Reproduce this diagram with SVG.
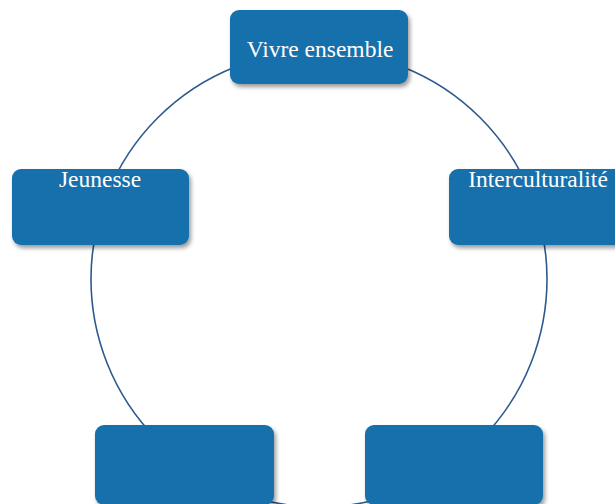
<svg xmlns="http://www.w3.org/2000/svg" width="615" height="504" viewBox="0 0 615 504">
<style>
.box{fill:#1570AC;filter:url(#sh)}
.lbl{font-family:"Liberation Serif","Times New Roman",serif;font-size:23.5px;fill:#fff;text-anchor:middle}
.conn{fill:none;stroke:#2D5A8E;stroke-width:1.6}
</style>
<defs>
<filter id="sh" x="-10%" y="-10%" width="130%" height="140%">
<feDropShadow dx="2" dy="3" stdDeviation="2" flood-color="#000" flood-opacity="0.4"/>
</filter>
</defs>
<rect width="615" height="504" fill="#fff"/>
<g id="connectors">
<circle class="conn" cx="319" cy="279" r="228"/>
</g>
<g id="vivre-ensemble">
<rect class="box" x="230" y="10" width="178" height="74" rx="9"/>
<text class="lbl" x="320" y="57">Vivre ensemble</text>
</g>
<g id="jeunesse">
<rect class="box" x="12" y="169" width="177" height="76" rx="9"/>
<text class="lbl" x="100" y="187">Jeunesse</text>
</g>
<g id="interculturalite">
<rect class="box" x="449" y="169" width="178" height="76" rx="9"/>
<text class="lbl" x="538" y="187">Interculturalité</text>
</g>
<g id="node-bottom-left">
<rect class="box" x="95" y="425" width="179" height="80" rx="9"/>
</g>
<g id="node-bottom-right">
<rect class="box" x="365" y="425" width="178" height="80" rx="9"/>
</g>
</svg>
